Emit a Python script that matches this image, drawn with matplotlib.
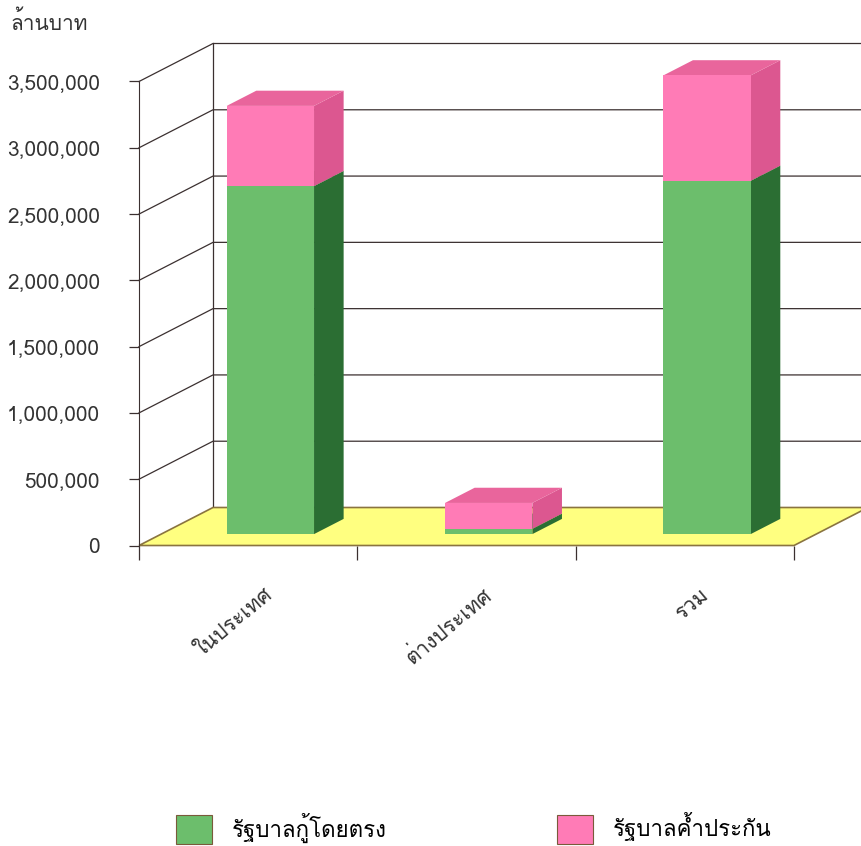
import matplotlib
matplotlib.use("Agg")
import matplotlib.pyplot as plt
from matplotlib.patches import Polygon, Patch

# values in million baht
categories = ["ในประเทศ", "ต่างประเทศ", "รวม"]
direct = [2625000, 40000, 2665000]       # รัฐบาลกู้โดยตรง
guaranteed = [605000, 195000, 795000]    # รัฐบาลค้ำประกัน
series_names = ["รัฐบาลกู้โดยตรง", "รัฐบาลค้ำประกัน"]
yticks = [0, 500000, 1000000, 1500000, 2000000, 2500000, 3000000, 3500000]

# Loma has the thai glyphs, the rest are fallbacks
fam = ["Loma", "Liberation Sans", "DejaVu Sans"]

W, H = 862, 846
fig = plt.figure(figsize=(W / 100, H / 100), dpi=100)
ax = fig.add_axes([139 / W, 1 - 545.5 / H, 655 / W, 464 / H])
ax.set_xlim(0, 3)
ax.set_ylim(0, 3500000)

# depth of the 3d box in data units
DX = 3 * 74 / 655
DY = 3500000 * 38 / 464
line_c = "#3b3030"

# side wall + back wall grid
for v in yticks[1:]:
    ax.plot([0, DX, 3 + DX], [v, v + DY, v + DY], color=line_c, lw=0.9, clip_on=False, zorder=1)
ax.plot([DX, DX], [DY, 3500000 + DY], color=line_c, lw=0.9, clip_on=False, zorder=1)

# floor
floor = Polygon([(0, 0), (3, 0), (3 + DX, DY), (DX, DY)], closed=True,
                facecolor="#FFFF80", edgecolor="#8a7440", lw=1.2, clip_on=False, zorder=2)
ax.add_patch(floor)

# bars
f0, f1 = 0.30, 0.70
bw = 0.40
cols = [("#6CBE6C", "#2B6E33", "#4E9E50"), ("#FF7BB6", "#DC5790", "#E9659C")]
for i in range(len(categories)):
    xc = i + 0.5
    base = 0
    for vals, (cf, cs, ct) in zip([direct, guaranteed], cols):
        v0, v1 = base, base + vals[i]
        xl, xr = xc - bw / 2 + f0 * DX, xc + bw / 2 + f0 * DX
        d0, dd = f0 * DY, (f1 - f0) * DY
        ddx = (f1 - f0) * DX
        side = Polygon([(xr, v0 + d0), (xr + ddx, v0 + d0 + dd), (xr + ddx, v1 + d0 + dd), (xr, v1 + d0)],
                       facecolor=cs, edgecolor="none", clip_on=False, zorder=3)
        top = Polygon([(xl, v1 + d0), (xr, v1 + d0), (xr + ddx, v1 + d0 + dd), (xl + ddx, v1 + d0 + dd)],
                      facecolor=ct, edgecolor="none", clip_on=False, zorder=3)
        front = Polygon([(xl, v0 + d0), (xr, v0 + d0), (xr, v1 + d0), (xl, v1 + d0)],
                        facecolor=cf, edgecolor="none", clip_on=False, zorder=3)
        ax.add_patch(side)
        ax.add_patch(top)
        ax.add_patch(front)
        base = v1

# axes
for s in ["top", "right", "bottom"]:
    ax.spines[s].set_visible(False)
ax.spines["left"].set_color(line_c)
ax.spines["left"].set_zorder(4)
ax.set_yticks(yticks)
ax.set_yticklabels(["{:,}".format(v) for v in yticks], fontsize=15, family=fam, color="#333333")
ax.tick_params(axis="y", direction="out", length=7, width=0.9, color=line_c, pad=21)
ax.set_xticks([0, 1, 2, 3])
ax.set_xticklabels([])
ax.tick_params(axis="x", direction="out", length=10, width=0.9, color=line_c)

for i, c in enumerate(categories):
    ax.text(i + 0.5 + 0.10, -350000, c, rotation=40, ha="right", va="center",
            rotation_mode="anchor", fontsize=15, family=fam, color="#333333")

fig.text(10 / W, 1 - 22 / H, "ล้านบาท", fontsize=15, family=fam, color="#333333", va="center")

handles = [Patch(facecolor=cols[0][0], edgecolor="#7a5a3a", lw=0.8),
           Patch(facecolor=cols[1][0], edgecolor="#7a5a3a", lw=0.8)]
fig.legend(handles, series_names, loc="center left", bbox_to_anchor=(176 / W, 1 - 828 / H), ncol=2,
           frameon=False, prop={"family": fam, "size": 16}, handlelength=1.62, handleheight=1.62,
           handletextpad=0.9, columnspacing=7.65, borderpad=0, borderaxespad=0)

fig.savefig("out.png", dpi=100)
